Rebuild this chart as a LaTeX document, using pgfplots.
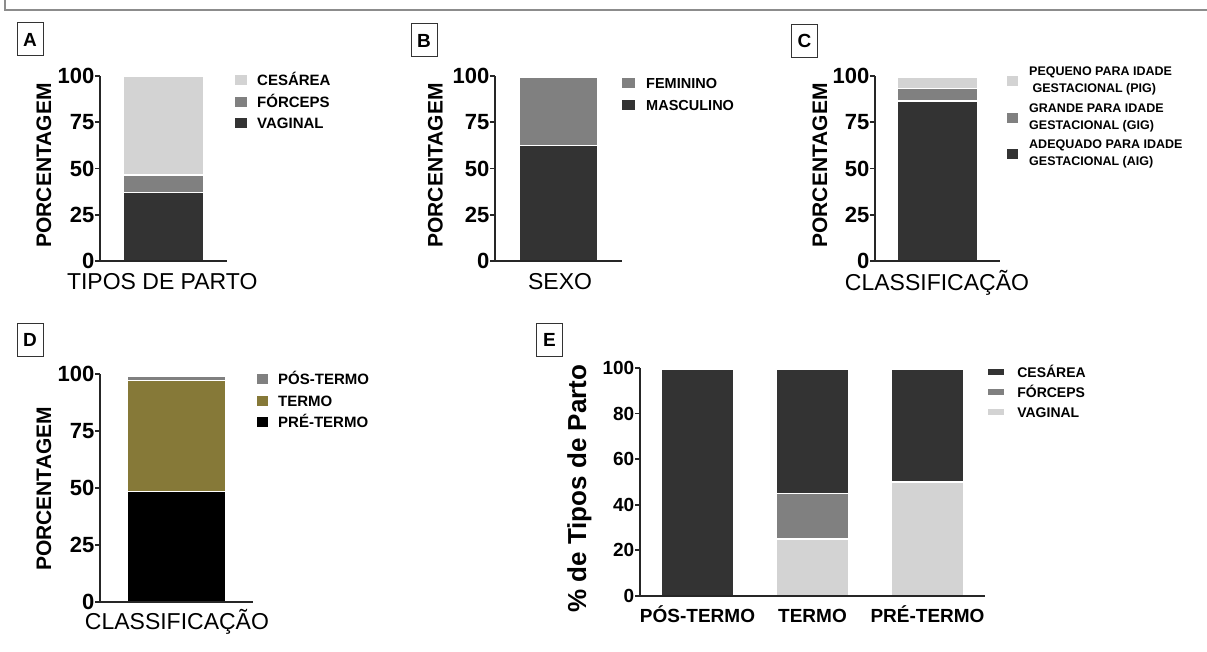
\documentclass[border=0pt]{standalone}
\usepackage{fontspec}
\setmainfont{Liberation Sans}
\usepackage{pgfplots}
\pgfplotsset{compat=1.18}
\definecolor{cdark}{HTML}{333333}
\definecolor{cmid}{HTML}{808080}
\definecolor{clight}{HTML}{D3D3D3}
\definecolor{colive}{RGB}{134,121,56}
\pgfplotsset{
  gp/.style={
    scale only axis,
    axis lines=left,
    axis line style={-, line width=1.8pt, black!85},
    ymin=0, ymax=100, xmin=0, xmax=1,
    xtick=\empty,
    ytick={0,25,50,75,100},
    tick align=outside,
    major tick length=5pt,
    ytick style={line width=1.8pt, black!85},
    yticklabel style={font=\fontsize{22}{22}\selectfont\bfseries, inner sep=0.5pt},
    /pgf/number format/assume math mode=true,
    ybar stacked,
    clip=false,
    axis on top,
    every axis plot/.append style={draw=white, line width=1.5pt},
    xlabel style={anchor=center, font=\fontsize{23}{23}\selectfont},
    ylabel style={anchor=center, font=\fontsize{21}{21}\selectfont\bfseries},
    ylabel={PORCENTAGEM},
    reverse legend,
    legend cell align=left,
    legend image code/.code={\fill[##1, draw=none] (0pt,-5pt) rectangle (12pt,5pt);},
    legend style={anchor=north west, draw=none, fill=none, inner sep=0pt,
      row sep=10.5pt, column sep=10pt,
      font=\fontsize{15}{15}\selectfont\bfseries,
      nodes={inner sep=0pt, text height=11pt, text depth=0pt}},
  }
}
\begin{document}
\begin{tikzpicture}[x=1pt,y=1pt]
\path[use as bounding box] (0,0) rectangle (1207,652);
\draw[black!45, line width=1.5pt] (5,652) -- (5,642) -- (1207,642);

\tikzset{pl/.style={draw=black!80, line width=1pt, minimum width=26pt, minimum height=33pt, inner sep=0pt, font=\fontsize{19}{19}\selectfont\bfseries}}
\node[pl] at (30,612.5) {A};
\node[pl] at (424,611.5) {B};
\node[pl] at (804.5,611) {C};
\node[pl] at (30,312) {D};
\node[pl] at (549.5,312) {E};

% Panel A
\begin{axis}[gp, at={(100pt,391pt)}, anchor=south west, width=127pt, height=185pt,
  bar width=80pt,
  xlabel={TIPOS DE PARTO},
  xlabel style={at={(axis description cs:0.49,-0.114)}},
  ylabel style={at={(axis description cs:-0.441,0.516)}},
  legend style={at={(axis description cs:1.063,1.008)}}]
\addplot[fill=cdark] coordinates {(0.5,37)};
\addplot[fill=cmid] coordinates {(0.5,9.5)};
\addplot[fill=clight] coordinates {(0.5,53.5)};
\addlegendentry{VAGINAL}
\addlegendentry{FÓRCEPS}
\addlegendentry{CESÁREA}
\end{axis}

% Panel B
\begin{axis}[gp, at={(495pt,391pt)}, anchor=south west, width=127pt, height=185pt,
  bar width=79pt,
  xlabel={SEXO},
  xlabel style={at={(axis description cs:0.512,-0.114)}},
  ylabel style={at={(axis description cs:-0.469,0.516)}},
  legend image code/.code={\fill[#1, draw=none] (0pt,-5pt) rectangle (13pt,5pt);},
  legend style={at={(axis description cs:1.0,0.992)}, column sep=11pt, font=\fontsize{14.5}{14.5}\selectfont\bfseries}]
\addplot[fill=cdark] coordinates {(0.5,62.5)};
\addplot[fill=cmid] coordinates {(0.5,37)};
\addlegendentry{MASCULINO}
\addlegendentry{FEMININO}
\end{axis}

% Panel C
\begin{axis}[gp, at={(875pt,391pt)}, anchor=south west, width=125pt, height=185pt,
  bar width=80pt,
  xlabel={CLASSIFICAÇÃO},
  xlabel style={at={(axis description cs:0.496,-0.119)}},
  ylabel style={at={(axis description cs:-0.44,0.516)}},
  legend image code/.code={\fill[#1, draw=none] (0pt,-5pt) rectangle (11pt,5pt);},
  legend style={at={(axis description cs:1.056,1.052)}, column sep=11pt, row sep=8.5pt,
    font=\fontsize{12.5}{17}\selectfont\bfseries,
    nodes={inner sep=0pt, align=left, text height=, text depth=}}]
\addplot[fill=cdark] coordinates {(0.5,86.5)};
\addplot[fill=cmid] coordinates {(0.5,6.8)};
\addplot[fill=clight] coordinates {(0.5,6.2)};
\addlegendentry{ADEQUADO PARA IDADE\\GESTACIONAL (AIG)}
\addlegendentry{GRANDE PARA IDADE\\GESTACIONAL (GIG)}
\addlegendentry{PEQUENO PARA IDADE\\\ GESTACIONAL (PIG)}
\end{axis}

% Panel D
\begin{axis}[gp, at={(100pt,50pt)}, anchor=south west, width=153pt, height=228pt,
  bar width=98pt,
  xlabel={CLASSIFICAÇÃO},
  xlabel style={at={(axis description cs:0.503,-0.088)}},
  ylabel style={at={(axis description cs:-0.366,0.496)}},
  legend image code/.code={\fill[#1, draw=none] (0pt,-5pt) rectangle (11pt,5pt);},
  legend style={at={(axis description cs:1.026,1.002)}}]
\addplot[fill=black] coordinates {(0.5,48.5)};
\addplot[fill=colive] coordinates {(0.5,48.6)};
\addplot[fill=cmid] coordinates {(0.5,1.9)};
\addlegendentry{PRÉ-TERMO}
\addlegendentry{TERMO}
\addlegendentry{PÓS-TERMO}
\end{axis}

% Panel E
\begin{axis}[gp, at={(640pt,56pt)}, anchor=south west, width=345pt, height=228pt,
  xmin=-0.5, xmax=2.5, bar width=72pt,
  xtick={0,1,2}, xticklabels={PÓS-TERMO,TERMO,PRÉ-TERMO},
  xtick style={draw=none},
  xticklabel style={font=\fontsize{19}{19}\selectfont\bfseries, anchor=north, inner sep=0pt, text height=17pt, text depth=0pt, yshift=-4pt},
  ytick={0,20,40,60,80,100},
  yticklabel style={font=\fontsize{19}{19}\selectfont\bfseries},
  ylabel={\% de Tipos de Parto},
  ylabel style={at={(axis description cs:-0.176,0.47)}, font=\fontsize{26}{26}\selectfont\bfseries},
  legend image code/.code={\fill[#1, draw=none] (0pt,-3pt) rectangle (16pt,3pt);},
  legend style={at={(axis description cs:1.009,1.004)}, column sep=13pt, row sep=10pt,
    font=\fontsize{14}{14}\selectfont\bfseries,
    nodes={inner sep=0pt, text height=10pt, text depth=0pt}}]
\addplot[fill=clight] coordinates {(0,0) (1,25) (2,50)};
\addplot[fill=cmid] coordinates {(0,0) (1,20) (2,0)};
\addplot[fill=cdark] coordinates {(0,99.5) (1,54.5) (2,49.5)};
\addlegendentry{VAGINAL}
\addlegendentry{FÓRCEPS}
\addlegendentry{CESÁREA}
\end{axis}
\end{tikzpicture}
\end{document}
